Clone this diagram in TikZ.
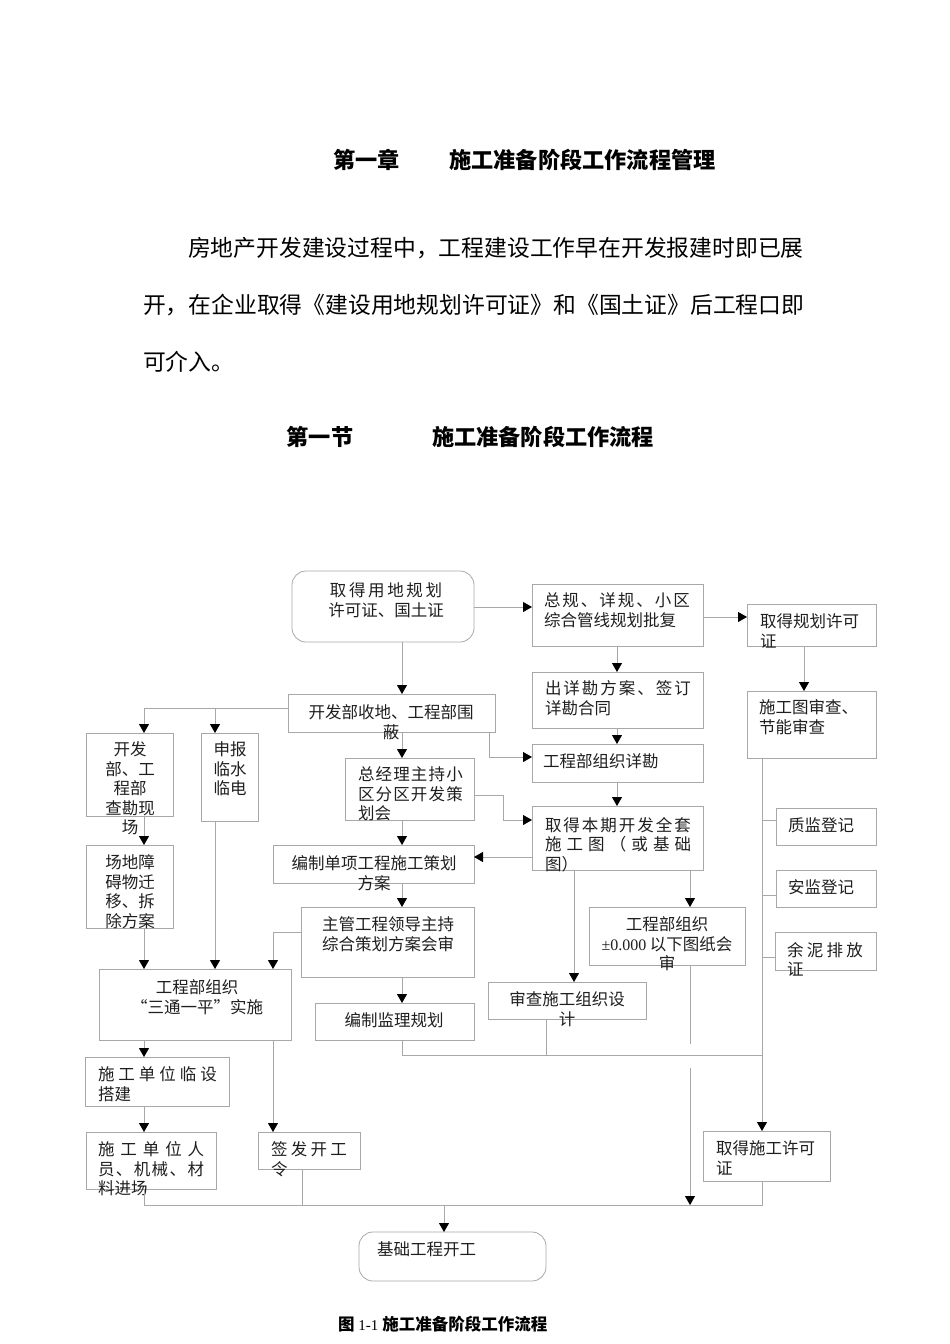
\documentclass[tikz,border=0pt]{standalone}
\usepackage{fontspec}
\setmainfont{Liberation Serif}
\newfontfamily\cjk{Noto Sans CJK SC}
\newfontfamily\serifnum{Liberation Serif}
\usetikzlibrary{arrows.meta}
\newcommand\lsp[2]{{\addfontfeature{LetterSpace=#1}#2}}
\definecolor{lc}{RGB}{168,168,168}
\newcommand\fbx[6][]{\node[box,#1,minimum width={#5-#3},minimum height={#6-#4}] (#2) at ({(#3+#5)/2},{(#4+#6)/2}) {};}
\begin{document}
\begin{tikzpicture}[x=1pt,y=-1pt,
  box/.style={draw=lc, line width=0.8pt, inner sep=0pt, outer sep=0pt},
  rbox/.style={box, rounded corners=14pt},
  txt/.style={inner sep=0pt, outer sep=0pt, text=black!88, font=\cjk\fontsize{16.5}{19.5}\selectfont},
  head/.style={inner sep=0pt, outer sep=0pt, font=\cjk\bfseries\fontsize{22.2}{26}\selectfont},
  para/.style={inner sep=0pt, outer sep=0pt, anchor=west, font=\cjk\fontsize{22.8}{26}\selectfont},
  ln/.style={draw=lc, line width=0.8pt},
  arr/.style={ln, -{Triangle[width=10pt,length=9pt,color=black]}}]
\useasboundingbox[fill=white] (0,0) rectangle (950,1344);

% headings and paragraph
\node[head] (h1a) at (366.5,160) {第一章};
\node[head] (h1b) at (582.5,160) {施工准备阶段工作流程管理};
\node[para] (p1) at (188,248) {房地产开发建设过程中，工程建设工作早在开发报建时即已展};
\node[para] (p2) at (143,305) {开，在企业取得《建设用地规划许可证》和《国土证》后工程口即};
\node[para] (p3) at (143,362) {可介入。};
\node[head] (h2a) at (320,437) {第一节};
\node[head] (h2b) at (543,437) {施工准备阶段工作流程};

% boxes
\fbx[rbox]{A}{292}{571}{474}{642}
\fbx{B}{532}{584}{703}{646}
\fbx{C}{747}{604}{876}{646}
\fbx{D}{532}{672}{703}{728}
\fbx{E}{747}{691}{876}{758}
\fbx{F}{288}{694}{495}{732}
\fbx{G}{532}{744}{703}{782}
\fbx{H}{86}{733}{173}{816}
\fbx{I}{201}{733}{258}{821}
\fbx{J}{345}{758}{474}{820}
\fbx{K}{532}{806}{703}{870}
\fbx{L}{776}{808}{876}{845}
\fbx{M}{273}{845}{474}{883}
\fbx{H2}{86}{845}{173}{928}
\fbx{N}{776}{870}{876}{907}
\fbx{O}{589}{907}{745}{965}
\fbx{P}{301}{907}{474}{977}
\fbx{Q}{775}{932}{876}{970}
\fbx{R}{99}{969}{291}{1040}
\fbx{S}{488}{982}{646}{1019}
\fbx{T}{315}{1003}{474}{1040}
\fbx{U}{85}{1057}{229}{1106}
\fbx{V}{86}{1132}{216}{1189}
\fbx{W}{258}{1132}{360}{1169}
\fbx{X}{703}{1131}{830}{1181}
\fbx[rbox]{Y}{359}{1232}{546}{1281}

% texts
\node[txt,align=center,anchor=north] (tA) at (386,583) {\lsp{16}{取得用地规划}\\许可证、国土证};
\node[txt,align=left,anchor=north west] (tB) at (544,593) {\lsp{12}{总规、详规、小区}\\综合管线规划批复};
\node[txt,align=left,anchor=north west] (tC) at (760,614) {取得规划许可\\证};
\node[txt,align=left,anchor=north west] (tD) at (545,681) {\lsp{12}{出详勘方案、签订}\\详勘合同};
\node[txt,align=left,anchor=north west] (tE) at (759,700) {施工图审查、\\节能审查};
\node[txt,align=center,anchor=north] (tF) at (391,705) {开发部收地、工程部围\\蔽};
\node[txt,align=left,anchor=north west] (tG) at (543,754) {工程部组织详勘};
\node[txt,align=center,anchor=north] (tH) at (130,742) {开发\\部、工\\程部\\查勘现\\场};
\node[txt,align=center,anchor=north] (tH2) at (130,855) {场地障\\碍物迁\\移、拆\\除方案};
\node[txt,align=center,anchor=north] (tI) at (230,742) {申报\\临水\\临电};
\node[txt,align=left,anchor=north west] (tJ) at (358,767) {\lsp{7}{总经理主持小}\\\lsp{7}{区分区开发策}\\划会};
\node[txt,align=left,anchor=north west] (tK) at (545,817) {\lsp{12}{取得本期开发全套}\\\lsp{31}{施工图（或基础}\\图）};
\node[txt,align=left,anchor=north west] (tL) at (788,818) {质监登记};
\node[txt,align=center,anchor=north] (tM) at (374,856) {编制单项工程施工策划\\方案};
\node[txt,align=left,anchor=north west] (tN) at (788,880) {安监登记};
\node[txt,align=center,anchor=north] (tO) at (667,917) {工程部组织\\{\serifnum\fontsize{16}{19.5}\selectfont ±0.000} 以下图纸会\\审};
\node[txt,align=left,anchor=north west] (tP) at (322,917) {主管工程领导主持\\综合策划方案会审};
\node[txt,align=left,anchor=north west] (tQ) at (787,942) {\lsp{20}{余泥排放}\\证};
\node[txt,align=center,anchor=north] (tR) at (197,980) {工程部组织\\“三通一平”实施};
\node[txt,align=center,anchor=north] (tS) at (567,992) {审查施工组织设\\计};
\node[txt,align=center,anchor=north] (tT) at (394,1013) {编制监理规划};
\node[txt,align=left,anchor=north west] (tU) at (98,1067) {\lsp{24}{施工单位临设}\\搭建};
\node[txt,align=left,anchor=north west] (tV) at (98,1142) {\lsp{36}{施工单位人}\\\lsp{8.5}{员、机械、材}\\料进场};
\node[txt,align=left,anchor=north west] (tW) at (271,1142) {\lsp{20}{签发开工}\\令};
\node[txt,align=left,anchor=north west] (tX) at (716,1141) {取得施工许可\\证};
\node[txt,align=left,anchor=north west] (tY) at (377,1242) {基础工程开工};

% caption
\node[inner sep=0pt,anchor=west,font=\cjk\bfseries\fontsize{16.5}{19}\selectfont] (cap) at (338,1324) {图 {\serifnum\mdseries\fontsize{15}{19}\selectfont 1-1}~施工准备阶段工作流程};

% guide coordinates
\coordinate (g144) at (144,0);
\coordinate (g215) at (215,0);
\coordinate (g273) at (273,0);
\coordinate (g302) at (302,0);
\coordinate (g402) at (402,0);
\coordinate (g444) at (444,0);
\coordinate (g489) at (489,0);
\coordinate (g503) at (503,0);
\coordinate (g546) at (546,0);
\coordinate (g574) at (574,0);
\coordinate (g617) at (617,0);
\coordinate (g690) at (690,0);
\coordinate (g762) at (762,0);
\coordinate (g804) at (804,0);
\coordinate (h607) at (0,607);
\coordinate (h617) at (0,617);
\coordinate (h708) at (0,708);
\coordinate (h757) at (0,757);
\coordinate (h795) at (0,795);
\coordinate (h820) at (0,820);
\coordinate (h857) at (0,857);
\coordinate (h895) at (0,895);
\coordinate (h932) at (0,932);
\coordinate (h957) at (0,957);
\coordinate (h1044) at (0,1044);
\coordinate (h1055) at (0,1055);
\coordinate (h1068) at (0,1068);
\coordinate (h1205) at (0,1205);

% connectors
\draw[arr] (A.east |- h607) -- (B.west |- h607);
\draw[arr] (B.east |- h617) -- (C.west |- h617);
\draw[arr] (B.south -| g617) -- (D.north -| g617);
\draw[arr] (C.south -| g804) -- (E.north -| g804);
\draw[arr] (A.south -| g402) -- (F.north -| g402);
\draw[arr] (D.south -| g617) -- (G.north -| g617);
\draw[arr] (F.west |- h708) -| (H.north -| g144);
\draw[arr] (g215 |- h708) -- (I.north -| g215);
\draw[arr] (F.south -| g489) |- (G.west |- h757);
\draw[arr] (F.south -| g402) -- (J.north -| g402);
\draw[arr] (G.south -| g617) -- (K.north -| g617);
\draw[arr] (J.east |- h795) -| (g503 |- h820) -- (K.west |- h820);
\draw[arr] (K.west |- h857) -- (M.east |- h857);
\draw[arr] (J.south -| g402) -- (M.north -| g402);
\draw[arr] (M.south -| g402) -- (P.north -| g402);
\draw[arr] (K.south -| g574) -- (S.north -| g574);
\draw[arr] (K.south -| g690) -- (O.north -| g690);
\draw[arr] (E.south -| g762) -- (X.north -| g762);
\draw[ln] (L.west |- h820) -- (g762 |- h820);
\draw[ln] (N.west |- h895) -- (g762 |- h895);
\draw[ln] (Q.west |- h957) -- (g762 |- h957);
\draw[arr] (H.south -| g144) -- (H2.north -| g144);
\draw[arr] (H2.south -| g144) -- (R.north -| g144);
\draw[arr] (I.south -| g215) -- (R.north -| g215);
\draw[arr] (P.west |- h932) -| (R.north -| g273);
\draw[arr] (P.south -| g402) -- (T.north -| g402);
\draw[arr] (R.south -| g144) -- (U.north -| g144);
\draw[arr] (R.south -| g273) -- (W.north -| g273);
\draw[arr] (U.south -| g144) -- (V.north -| g144);
\draw[ln] (T.south -| g402) -- (g402 |- h1055) -- (g762 |- h1055);
\draw[ln] (S.south -| g546) -- (g546 |- h1055);
\draw[ln] (O.south -| g690) -- (g690 |- h1044);
\draw[arr] (g690 |- h1068) -- (g690 |- h1205);
\draw[ln] (V.south -| g144) -- (g144 |- h1205) -- (g762 |- h1205) -- (X.south -| g762);
\draw[ln] (W.south -| g302) -- (g302 |- h1205);
\draw[arr] (g444 |- h1205) -- (Y.north -| g444);
\end{tikzpicture}
\end{document}
